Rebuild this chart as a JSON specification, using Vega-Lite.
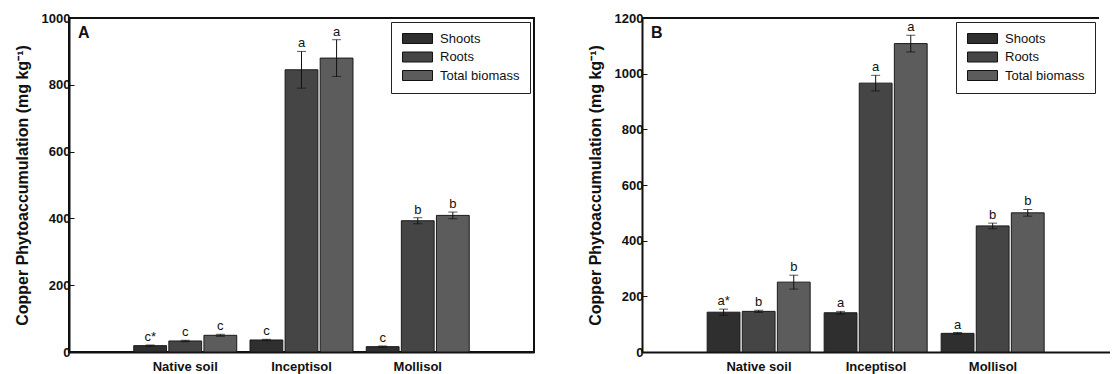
{
  "$schema": "https://vega.github.io/schema/vega-lite/v6.json",
  "padding": {"left": 13, "top": 11, "right": 0, "bottom": 0},
  "background": "white",
  "config": {
    "font": "Liberation Sans",
    "view": {"stroke": "#111", "strokeWidth": 2},
    "axis": {
      "domainColor": "#111", "domainWidth": 2, "tickColor": "#111",
      "labelColor": "#111", "titleColor": "#111", "grid": false,
      "labelFont": "Liberation Sans", "labelFontWeight": "bold", "labelFontSize": 13,
      "titleFont": "Liberation Sans", "titleFontWeight": "bold", "titleFontSize": 16
    },
    "legend": {
      "labelFont": "Liberation Sans", "labelFontSize": 13, "labelColor": "#111",
      "strokeColor": "#222", "fillColor": "white", "padding": 10,
      "symbolType": "M-1,-1H5V1H-1Z", "symbolSize": 100,
      "symbolStrokeColor": "#111", "symbolStrokeWidth": 1, "symbolOpacity": 1,
      "labelOffset": 26, "rowPadding": 3.5, "orient": "top-right", "offset": 4
    }
  },
  "datasets": {
    "panelA": [
      {"soil": "Native soil", "part": "Shoots", "value": 19, "lo": 17, "hi": 21, "lab": "c*"},
      {"soil": "Native soil", "part": "Roots", "value": 33, "lo": 31, "hi": 35, "lab": "c"},
      {"soil": "Native soil", "part": "Total biomass", "value": 50, "lo": 47, "hi": 53, "lab": "c"},
      {"soil": "Inceptisol", "part": "Shoots", "value": 36, "lo": 34, "hi": 38, "lab": "c"},
      {"soil": "Inceptisol", "part": "Roots", "value": 845, "lo": 790, "hi": 900, "lab": "a"},
      {"soil": "Inceptisol", "part": "Total biomass", "value": 880, "lo": 825, "hi": 935, "lab": "a"},
      {"soil": "Mollisol", "part": "Shoots", "value": 16, "lo": 14, "hi": 18, "lab": "c"},
      {"soil": "Mollisol", "part": "Roots", "value": 393, "lo": 384, "hi": 402, "lab": "b"},
      {"soil": "Mollisol", "part": "Total biomass", "value": 409, "lo": 399, "hi": 419, "lab": "b"}
    ],
    "panelB": [
      {"soil": "Native soil", "part": "Shoots", "value": 143, "lo": 132, "hi": 154, "lab": "a*"},
      {"soil": "Native soil", "part": "Roots", "value": 146, "lo": 142, "hi": 150, "lab": "b"},
      {"soil": "Native soil", "part": "Total biomass", "value": 251, "lo": 226, "hi": 276, "lab": "b"},
      {"soil": "Inceptisol", "part": "Shoots", "value": 141, "lo": 136, "hi": 146, "lab": "a"},
      {"soil": "Inceptisol", "part": "Roots", "value": 966, "lo": 938, "hi": 994, "lab": "a"},
      {"soil": "Inceptisol", "part": "Total biomass", "value": 1108, "lo": 1078, "hi": 1138, "lab": "a"},
      {"soil": "Mollisol", "part": "Shoots", "value": 67, "lo": 64, "hi": 70, "lab": "a"},
      {"soil": "Mollisol", "part": "Roots", "value": 453, "lo": 443, "hi": 463, "lab": "b"},
      {"soil": "Mollisol", "part": "Total biomass", "value": 500, "lo": 488, "hi": 512, "lab": "b"}
    ]
  },
  "resolve": {"legend": {"fill": "independent"}, "scale": {"fill": "independent", "y": "independent", "x": "independent"}},
  "spacing": 52,
  "hconcat": [
    {
      "width": 465, "height": 334,
      "data": {"name": "panelA"},
      "title": {"text": "A", "anchor": "start", "frame": "group", "offset": -29, "dx": 9, "fontSize": 16, "fontWeight": "bold", "font": "Liberation Sans", "color": "#111"},
      "encoding": {
        "x": {"field": "soil", "type": "nominal", "sort": ["Native soil", "Inceptisol", "Mollisol"],
              "scale": {"paddingInner": 0.114, "paddingOuter": 0.557},
              "axis": {"ticks": false, "labelPadding": 8, "labelAngle": 0, "title": null, "labelFontSize": 13, "labelFontWeight": "bold", "labelFont": "Liberation Sans"}},
        "xOffset": {"field": "part", "type": "nominal", "sort": ["Shoots", "Roots", "Total biomass"], "scale": {"paddingInner": 0.065}}
      },
      "layer": [
        {
          "mark": {"type": "bar", "stroke": "#1a1a1a", "strokeWidth": 1},
          "encoding": {
            "y": {"field": "value", "type": "quantitative", "scale": {"domain": [0, 1000]},
                  "axis": {"values": [0, 200, 400, 600, 800, 1000], "format": "d", "tickSize": -5, "labelPadding": 4, "titlePadding": 11,
                           "labelFontSize": 13, "labelFontWeight": "bold", "labelFont": "Liberation Sans",
                           "titleFontSize": 16, "titleFontWeight": "bold", "titleFont": "Liberation Sans",
                           "title": "Copper Phytoaccumulation (mg kg⁻¹)"}},
            "fill": {"field": "part", "type": "nominal", "sort": ["Shoots", "Roots", "Total biomass"],
                     "scale": {"domain": ["Shoots", "Roots", "Total biomass"], "range": ["#2f2f2f", "#454545", "#5c5c5c"]},
                     "legend": {"title": null}}
          }
        },
        {
          "mark": {"type": "rule", "color": "#111", "strokeWidth": 1},
          "encoding": {"y": {"field": "lo", "type": "quantitative"}, "y2": {"field": "hi"}}
        },
        {
          "mark": {"type": "tick", "orient": "horizontal", "size": 9, "thickness": 1, "color": "#111"},
          "encoding": {"y": {"field": "hi", "type": "quantitative"}}
        },
        {
          "mark": {"type": "tick", "orient": "horizontal", "size": 9, "thickness": 1, "color": "#111"},
          "encoding": {"y": {"field": "lo", "type": "quantitative"}}
        },
        {
          "mark": {"type": "text", "baseline": "alphabetic", "dy": -4, "fontSize": 13, "font": "Liberation Sans", "color": "#111"},
          "encoding": {"y": {"field": "hi", "type": "quantitative"}, "text": {"field": "lab"}}
        }
      ]
    },
    {
      "width": 457, "height": 334,
      "view": {"stroke": null},
      "data": {"name": "panelB"},
      "title": {"text": "B", "anchor": "start", "frame": "group", "offset": -29, "dx": 9, "fontSize": 16, "fontWeight": "bold", "font": "Liberation Sans", "color": "#111"},
      "encoding": {
        "x": {"field": "soil", "type": "nominal", "sort": ["Native soil", "Inceptisol", "Mollisol"],
              "scale": {"paddingInner": 0.114, "paddingOuter": 0.557, "range": [0, 468]},
              "axis": {"ticks": false, "labelPadding": 8, "labelAngle": 0, "title": null, "labelFontSize": 13, "labelFontWeight": "bold", "labelFont": "Liberation Sans"}},
        "xOffset": {"field": "part", "type": "nominal", "sort": ["Shoots", "Roots", "Total biomass"], "scale": {"paddingInner": 0.065}}
      },
      "layer": [
        {
          "mark": {"type": "bar", "stroke": "#1a1a1a", "strokeWidth": 1},
          "encoding": {
            "y": {"field": "value", "type": "quantitative", "scale": {"domain": [0, 1200]},
                  "axis": {"values": [0, 200, 400, 600, 800, 1000, 1200], "format": "d", "tickSize": -5, "labelPadding": 4, "titlePadding": 11,
                           "labelFontSize": 13, "labelFontWeight": "bold", "labelFont": "Liberation Sans",
                           "titleFontSize": 16, "titleFontWeight": "bold", "titleFont": "Liberation Sans",
                           "title": "Copper Phytoaccumulation (mg kg⁻¹)"}},
            "fill": {"field": "part", "type": "nominal", "sort": ["Shoots", "Roots", "Total biomass"],
                     "scale": {"domain": ["Shoots", "Roots", "Total biomass"], "range": ["#2f2f2f", "#454545", "#5c5c5c"]},
                     "legend": {"title": null}}
          }
        },
        {
          "mark": {"type": "rule", "color": "#111", "strokeWidth": 1},
          "encoding": {"y": {"field": "lo", "type": "quantitative"}, "y2": {"field": "hi"}}
        },
        {
          "mark": {"type": "tick", "orient": "horizontal", "size": 9, "thickness": 1, "color": "#111"},
          "encoding": {"y": {"field": "hi", "type": "quantitative"}}
        },
        {
          "mark": {"type": "tick", "orient": "horizontal", "size": 9, "thickness": 1, "color": "#111"},
          "encoding": {"y": {"field": "lo", "type": "quantitative"}}
        },
        {
          "mark": {"type": "text", "baseline": "alphabetic", "dy": -4, "fontSize": 13, "font": "Liberation Sans", "color": "#111"},
          "encoding": {"y": {"field": "hi", "type": "quantitative"}, "text": {"field": "lab"}}
        },
        {
          "mark": {"type": "rule", "color": "#111", "strokeWidth": 2},
          "encoding": {"y": {"datum": 1200}, "x": null, "xOffset": null}
        }
      ]
    }
  ]
}
